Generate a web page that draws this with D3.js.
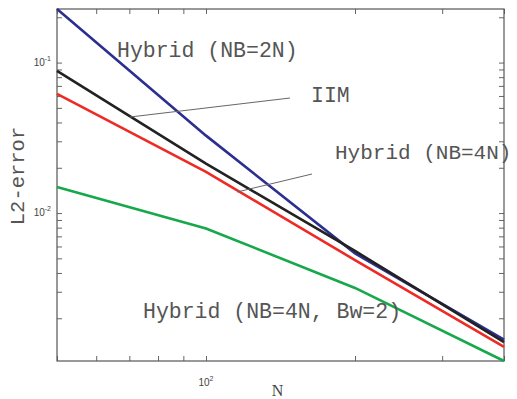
<!DOCTYPE html>
<html>
<head>
<meta charset="utf-8">
<script src="https://cdn.jsdelivr.net/npm/d3@7"></script>
<style>
  body { margin: 0; background: #fff; }
  svg { display: block; }
</style>
</head>
<body>
<div id="chart"></div>
<script>
// data
const nValues = [50, 100, 200, 400];
const hybrid2N = [0.227, 0.0327, 0.0054, 0.00144];
const iim = [0.088, 0.0213, 0.0056, 0.00139];
const hybrid4N = [0.062, 0.0188, 0.00487, 0.00129];
const hybrid4NBw2 = [0.0149, 0.0079, 0.00318, 0.00104];

const seriesColors = ['#2b2f8f', '#222222', '#ee2a24', '#16a84b'];
const seriesList = [hybrid2N, iim, hybrid4N, hybrid4NBw2];

const xTickLabels = [{ v: 100, base: '10', exp: '2' }];
const yTickLabels = [{ v: 0.1, base: '10', exp: '-1' }, { v: 0.01, base: '10', exp: '-2' }];

const width = 517, height = 399;
const margin = { top: 9, right: 13, bottom: 38, left: 57 };
const innerW = width - margin.left - margin.right;
const innerH = height - margin.top - margin.bottom;

const svg = d3.select('#chart').append('svg')
  .attr('width', width)
  .attr('height', height);

const g = svg.append('g')
  .attr('transform', `translate(${margin.left},${margin.top})`);

const x = d3.scaleLog().domain(d3.extent(nValues)).range([0, innerW]);
const allY = seriesList.flat();
const y = d3.scaleLog().domain(d3.extent(allY)).range([innerH, 0]);

// ticks (inward, all four sides, like matlab's box on)
const xTicks = x.ticks().filter(t => t >= x.domain()[0] && t <= x.domain()[1]);
const yTicks = y.ticks().filter(t => t >= y.domain()[0] && t <= y.domain()[1]);
const tickColor = '#666';

g.append('g').call(d3.axisBottom(x).tickValues(xTicks).tickSize(-5).tickFormat(''))
  .attr('transform', `translate(0,${innerH})`);
g.append('g').call(d3.axisTop(x).tickValues(xTicks).tickSize(-5).tickFormat(''));
g.append('g').call(d3.axisLeft(y).tickValues(yTicks).tickSize(-5).tickFormat(''));
g.append('g').call(d3.axisRight(y).tickValues(yTicks).tickSize(-5).tickFormat(''))
  .attr('transform', `translate(${innerW},0)`);
g.selectAll('.domain').remove();
g.selectAll('.tick line').attr('stroke', tickColor).attr('stroke-width', 1);

// box
g.append('rect')
  .attr('width', innerW).attr('height', innerH)
  .attr('fill', 'none').attr('stroke', '#555').attr('stroke-width', 1.2);

// tick labels with superscripts
xTickLabels.forEach(t => {
  const txt = svg.append('text')
    .attr('x', margin.left + x(t.v))
    .attr('y', margin.top + innerH + 25)
    .attr('text-anchor', 'middle')
    .attr('font-family', 'Liberation Sans, Arial, sans-serif')
    .attr('font-size', 10)
    .attr('fill', '#444');
  txt.append('tspan').text(t.base);
  txt.append('tspan').attr('dy', -5).attr('font-size', 7).text(t.exp);
});
yTickLabels.forEach(t => {
  const txt = svg.append('text')
    .attr('x', margin.left - 6)
    .attr('y', margin.top + y(t.v) + 3)
    .attr('text-anchor', 'end')
    .attr('font-family', 'Liberation Sans, Arial, sans-serif')
    .attr('font-size', 10)
    .attr('fill', '#444');
  txt.append('tspan').text(t.base);
  txt.append('tspan').attr('dy', -5).attr('font-size', 7).text(t.exp);
});

// axis titles
svg.append('text')
  .attr('x', margin.left + innerW / 2 - 3)
  .attr('y', 396)
  .attr('text-anchor', 'middle')
  .attr('font-family', 'Liberation Serif, Times New Roman, serif')
  .attr('font-size', 16)
  .attr('fill', '#444')
  .text('N');

svg.append('text')
  .attr('transform', `translate(24,176) rotate(-90)`)
  .attr('text-anchor', 'middle')
  .attr('font-family', 'Liberation Mono, Courier New, monospace')
  .attr('font-size', 20.5)
  .attr('fill', '#555')
  .text('L2-error');

// series lines
const line = d3.line()
  .x((d, i) => x(nValues[i]))
  .y(d => y(d));

const plot = g.append('g');
seriesList.forEach((s, i) => {
  plot.append('path')
    .datum(s)
    .attr('d', line)
    .attr('fill', 'none')
    .attr('stroke', seriesColors[i])
    .attr('stroke-width', 2.6);
});

// leader lines (thin grey)
const leaders = [
  [[130, 117], [290, 98]],
  [[237, 192], [312, 174]]
];
leaders.forEach(p => {
  svg.append('line')
    .attr('x1', p[0][0]).attr('y1', p[0][1])
    .attr('x2', p[1][0]).attr('y2', p[1][1])
    .attr('stroke', '#666').attr('stroke-width', 1);
});

// annotations
const notes = [
  { text: 'Hybrid (NB=2N)', x: 117, y: 57, size: 21.5 },
  { text: 'IIM', x: 311, y: 102, size: 21.5 },
  { text: 'Hybrid (NB=4N)', x: 335, y: 159, size: 21 },
  { text: 'Hybrid (NB=4N, Bw=2)', x: 143, y: 318, size: 21.5 }
];
notes.forEach(n => {
  svg.append('text')
    .attr('x', n.x).attr('y', n.y)
    .attr('font-family', 'Liberation Mono, Courier New, monospace')
    .attr('font-size', n.size)
    .attr('fill', '#555')
    .text(n.text);
});
</script>
</body>
</html>
